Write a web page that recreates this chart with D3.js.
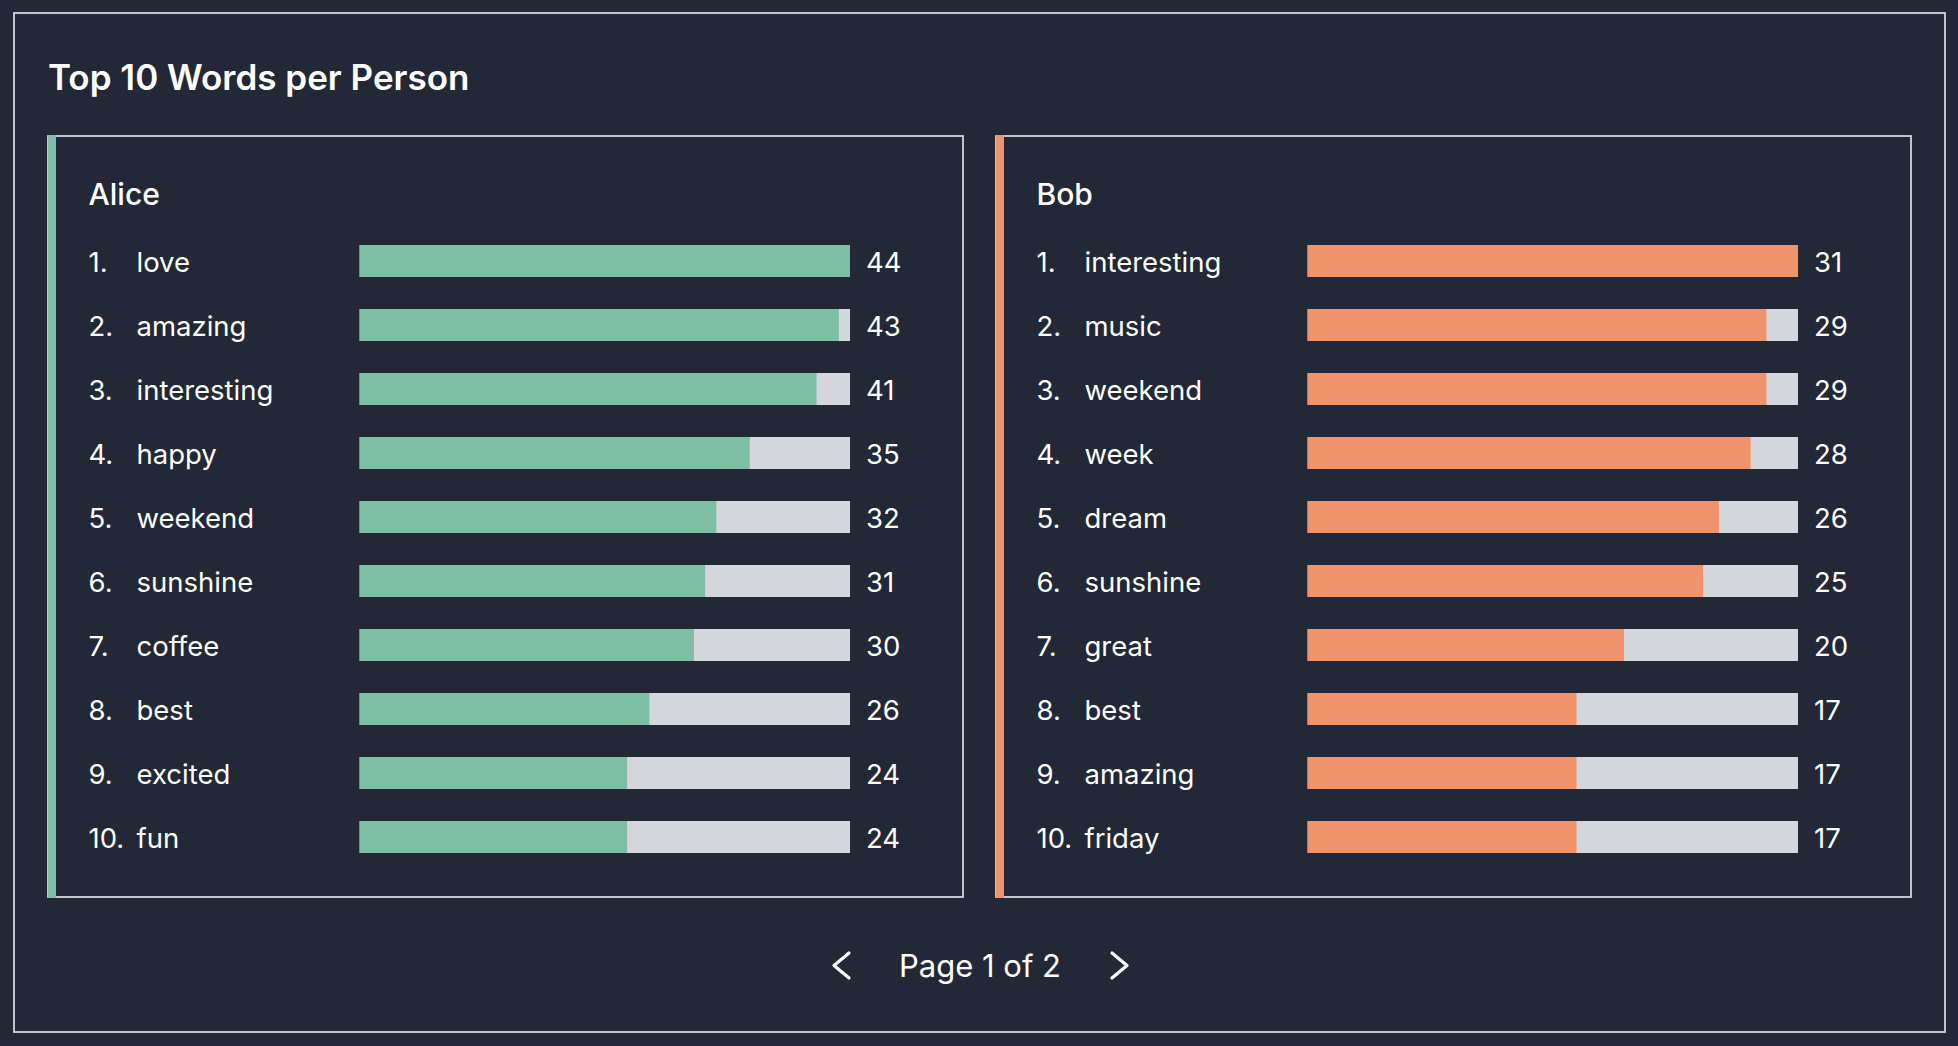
<!DOCTYPE html>
<html>
<head>
<meta charset="utf-8">
<script src="https://cdn.jsdelivr.net/npm/d3@7"></script>
<style>
  html, body { margin: 0; padding: 0; background: #222836; }
  svg { display: block; }
  text { font-family: Inter, "Noto Sans", sans-serif; fill: #ffffff; }
</style>
</head>
<body>
<svg id="chart" width="1958" height="1046"></svg>
<script>
// ---- data ----
const title = "Top 10 Words per Person";
const people = ["Alice", "Bob"];
const aliceWords = ["love", "amazing", "interesting", "happy", "weekend", "sunshine", "coffee", "best", "excited", "fun"];
const aliceCounts = [44, 43, 41, 35, 32, 31, 30, 26, 24, 24];
const bobWords = ["interesting", "music", "weekend", "week", "dream", "sunshine", "great", "best", "amazing", "friday"];
const bobCounts = [31, 29, 29, 28, 26, 25, 20, 17, 17, 17];
const pageLabel = "Page 1 of 2";

// ---- styles ----
const colors = { Alice: "#7dbfa4", Bob: "#ee936b" };
const trackColor = "#d3d6db";
const borderColor = "#d1d5db";

const svg = d3.select("#chart");

// outer frame
svg.append("rect").attr("x", 14).attr("y", 13).attr("width", 1931).attr("height", 1019)
  .attr("fill", "none").attr("stroke", borderColor).attr("stroke-width", 1.8);

svg.append("text").attr("x", 48).attr("y", 89.5)
  .attr("font-size", 35).attr("font-weight", 600).text(title);

const panelW = 915, panelTop = 136, panelH = 761;
const panelX = d3.scaleOrdinal().domain(people).range([48, 996]);

const datasets = {
  Alice: aliceWords.map((w, i) => ({ rank: i + 1, word: w, count: aliceCounts[i] })),
  Bob: bobWords.map((w, i) => ({ rank: i + 1, word: w, count: bobCounts[i] }))
};

const y = d3.scaleBand().domain(d3.range(1, 11)).range([229, 869]).paddingInner(0.5).paddingOuter(0.25);

people.forEach(p => {
  const px = panelX(p);
  const g = svg.append("g");
  g.append("rect").attr("x", px).attr("y", panelTop).attr("width", panelW).attr("height", panelH)
    .attr("fill", "none").attr("stroke", borderColor).attr("stroke-width", 1.8);
  g.append("rect").attr("x", px).attr("y", panelTop - 1).attr("width", 8).attr("height", panelH + 2)
    .attr("fill", colors[p]);
  g.append("text").attr("x", px + 40.5).attr("y", 205)
    .attr("font-size", 30).attr("font-weight", 500).text(p);

  const data = datasets[p];
  const x = d3.scaleLinear().domain([0, d3.max(data, d => d.count)]).range([px + 311.6, px + 802]);

  const rows = g.selectAll("g.row").data(data).join("g").attr("class", "row");
  rows.append("rect").attr("x", x(0)).attr("y", d => y(d.rank))
    .attr("width", x.range()[1] - x(0)).attr("height", y.bandwidth()).attr("fill", trackColor);
  rows.append("rect").attr("x", x(0)).attr("y", d => y(d.rank))
    .attr("width", d => x(d.count) - x(0)).attr("height", y.bandwidth()).attr("fill", colors[p]);
  const ty = d => y(d.rank) + y.bandwidth() / 2 + 10.5;
  rows.append("text").attr("x", px + 40.5).attr("y", ty).attr("font-size", 27.5).text(d => d.rank + ".");
  rows.append("text").attr("x", px + 88.5).attr("y", ty).attr("font-size", 27.5).text(d => d.word);
  rows.append("text").attr("x", x.range()[1] + 16).attr("y", ty).attr("font-size", 27.5).text(d => d.count);
});

// pagination
const cx = 980;
svg.append("text").attr("x", cx).attr("y", 977).attr("text-anchor", "middle")
  .attr("font-size", 31).text(pageLabel);
const chev = (x0, dir) => {
  svg.append("path")
    .attr("d", `M${x0 + (dir < 0 ? 15 : 0)},953 L${x0 + (dir < 0 ? 0 : 15)},965.5 L${x0 + (dir < 0 ? 15 : 0)},978`)
    .attr("fill", "none").attr("stroke", "#ffffff").attr("stroke-width", 3.2)
    .attr("stroke-linecap", "round").attr("stroke-linejoin", "round");
};
chev(834, -1);
chev(1112, 1);
</script>
</body>
</html>
